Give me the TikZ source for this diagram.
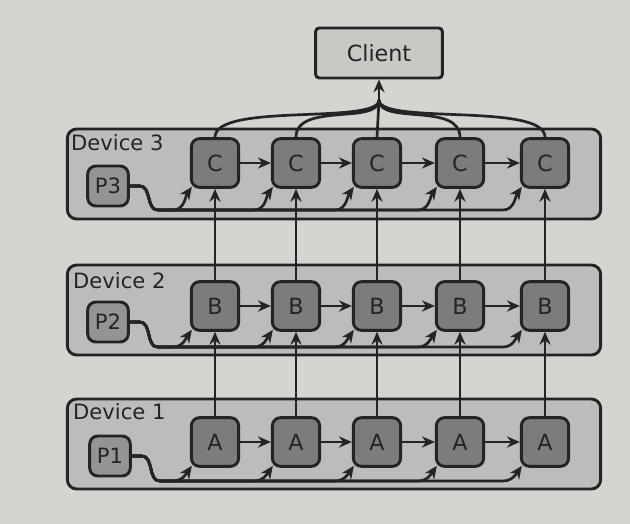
\documentclass[tikz,border=0pt]{standalone}
\usepackage{fontspec}
\setmainfont{DejaVu Sans}
\usetikzlibrary{arrows.meta, calc}
\definecolor{paper}{RGB}{212, 212, 208}
\definecolor{devfill}{RGB}{188, 189, 186}
\definecolor{stagefill}{RGB}{124, 124, 122}
\definecolor{paramfill}{RGB}{148, 148, 146}
\definecolor{clientfill}{RGB}{200, 200, 197}
\definecolor{ink}{RGB}{36, 36, 36}

\begin{document}
\begin{tikzpicture}[x=0.03cm, y=-0.03cm,
  device/.style={draw=ink, line width=2.5pt, rounded corners=8pt, fill=devfill, minimum width=16cm, minimum height=2.7cm},
  devlabel/.style={anchor=west, font=\fontsize{18}{21}\selectfont, text=ink, inner sep=0pt},
  stage/.style={draw=ink, line width=2.5pt, rounded corners=7pt, fill=stagefill, minimum width=1.42cm, minimum height=1.46cm, inner sep=0pt, font=\fontsize{19}{22}\selectfont, text=ink},
  param/.style={draw=ink, line width=2.5pt, rounded corners=7pt, fill=paramfill, minimum width=1.22cm, minimum height=1.2cm, inner sep=0pt, font=\fontsize{18}{21}\selectfont, text=ink},
  link/.style={draw=ink, line width=2.3pt, -{Stealth[length=11pt, width=9.5pt]}},
  wire/.style={draw=ink, line width=2.3pt}]
  \fill[paper] (0,0) rectangle (630,524);
  \useasboundingbox (0,0) rectangle (630,524);

  % ===== Devices =====
  \node[device] (dev3) at (334,174) {};
  \node[device] (dev2) at (334,310) {};
  \node[device] (dev1) at (334,444) {};
  \node[devlabel] (lab3) at (71,143) {Device 3};
  \node[devlabel] (lab2) at (73,281) {Device 2};
  \node[devlabel] (lab1) at (73,412) {Device 1};

  % Parameters
  \node[param] (p3) at (108,186) {P3};
  \node[param] (p2) at (108,322) {P2};
  \node[param] (p1) at (110,456) {P1};

  % Stages
  \foreach \i/\x in {1/215, 2/296, 3/377, 4/460, 5/545} {
    \node[stage] (c\i) at (\x,163) {C};
    \node[stage] (b\i) at (\x,306) {B};
    \node[stage] (a\i) at (\x,442) {A};
  }

  % Client
  \node[draw=ink, line width=2.5pt, rounded corners=3pt, fill=clientfill, minimum width=3.8cm, minimum height=1.5cm, font=\fontsize{19}{22}\selectfont, text=ink] (client) at (379,53) {Client};
  \coordinate (hub) at (379,100);

  % Buses
  \coordinate (bus3) at (0,210);
  \coordinate (bus2) at (0,347);
  \coordinate (bus1) at (0,481);

  % Arrows
  \foreach \i in {1,...,5} {
    \draw[link] (p3.east) -- ++(10,0) to[out=0, in=180] ($(p3.east |- bus3)+(28,0)$) -- ($(c\i.south west |- bus3)+(-17,0)$) to[out=0, in=-125] ($(c\i.south west)+(2,-2)$);
    \draw[link] (p2.east) -- ++(10,0) to[out=0, in=180] ($(p2.east |- bus2)+(28,0)$) -- ($(b\i.south west |- bus2)+(-17,0)$) to[out=0, in=-125] ($(b\i.south west)+(2,-2)$);
    \draw[link] (p1.east) -- ++(10,0) to[out=0, in=180] ($(p1.east |- bus1)+(28,0)$) -- ($(a\i.south west |- bus1)+(-17,0)$) to[out=0, in=-125] ($(a\i.south west)+(2,-2)$);
    \draw[link] (a\i) -- (b\i);
    \draw[link] (b\i) -- (c\i);
  }
  \foreach \i [count=\j from 2] in {1,...,4} {
    \draw[link] (c\i) -- (c\j);
    \draw[link] (b\i) -- (b\j);
    \draw[link] (a\i) -- (a\j);
  }
  \foreach \i in {1,2,4,5} {
    \draw[wire] (c\i.north) .. controls +(0,-35) and +(0,25) .. (hub);
  }
  \draw[wire] (c3.north) -- (hub);
  \draw[link] (hub) -- (client.south);
\end{tikzpicture}
\end{document}
